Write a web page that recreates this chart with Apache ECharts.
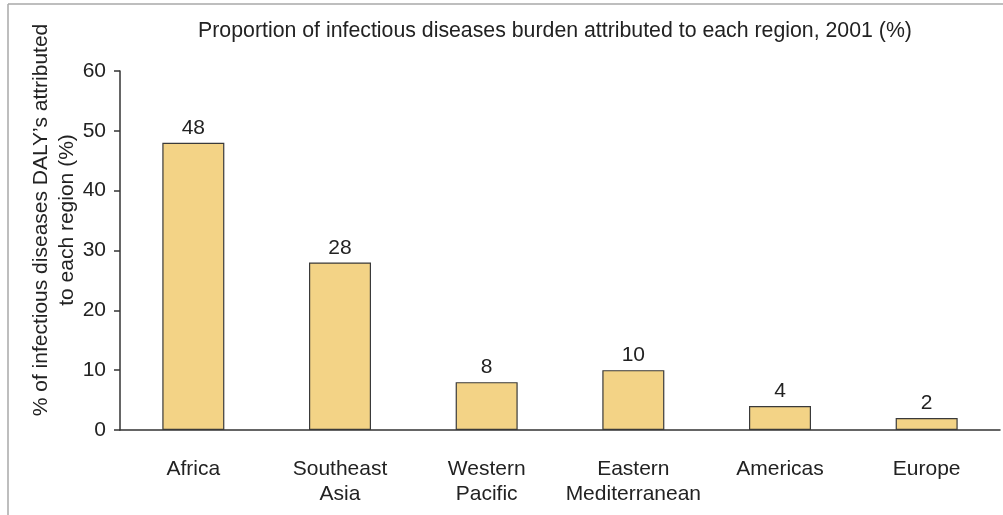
<!DOCTYPE html>
<html>
<head>
<meta charset="utf-8">
<script src="https://cdn.jsdelivr.net/npm/echarts@6/dist/echarts.min.js"></script>
<style>
  html, body { margin: 0; padding: 0; background: #fff; }
  #chart { width: 1003px; height: 515px; }
</style>
</head>
<body>
<div id="chart"></div>
<script>
// Regions and their share of infectious disease DALYs, 2001 (%)
const regions = ['Africa', 'Southeast\nAsia', 'Western\nPacific', 'Eastern\nMediterranean', 'Americas', 'Europe'];
const shares = [48, 28, 8, 10, 4, 2];
const yTicks = [0, 10, 20, 30, 40, 50, 60];

const titleText = 'Proportion of infectious diseases burden attributed to each region, 2001 (%)';
const yNameLines = ["% of infectious diseases DALY\u2019s attributed", 'to each region (%)'];

const FONT = '"Liberation Sans", Arial, Helvetica, sans-serif';
const INK = '#222';
const FS = 21;

const chart = echarts.init(document.getElementById('chart'), null, { renderer: 'canvas' });

chart.setOption({
  animation: false,
  backgroundColor: '#fff',
  textStyle: { fontFamily: FONT, color: INK },
  title: {
    text: titleText,
    left: 550,
    top: 16,
    textAlign: 'center',
    textStyle: { fontFamily: FONT, fontSize: 21.3, fontWeight: 'normal', color: INK }
  },
  grid: { left: 120, right: 3, top: 71, bottom: 85, containLabel: false },
  xAxis: {
    type: 'category',
    data: regions,
    axisLine: { show: true, lineStyle: { color: '#333', width: 1.5 } },
    axisTick: { show: false },
    axisLabel: {
      interval: 0,
      margin: 27,
      fontFamily: FONT,
      fontSize: FS,
      color: INK,
      lineHeight: 25
    }
  },
  yAxis: {
    type: 'value',
    min: yTicks[0],
    max: yTicks[yTicks.length - 1],
    interval: 10,
    axisLine: { show: true, lineStyle: { color: '#333', width: 1.5 } },
    axisTick: { show: true, length: 6, lineStyle: { color: '#333', width: 1.5 } },
    splitLine: { show: false },
    axisLabel: { margin: 14, fontFamily: FONT, fontSize: FS, color: INK }
  },
  series: [{
    type: 'bar',
    data: shares,
    barWidth: 62,
    itemStyle: { color: '#f3d386', borderColor: '#3a3a3a', borderWidth: 1.2 },
    label: {
      show: true,
      position: 'top',
      distance: 4,
      fontFamily: FONT,
      fontSize: FS,
      color: INK
    }
  }],
  graphic: [
    // figure frame (top and left edges)
    { type: 'line', shape: { x1: 8, y1: 4, x2: 1003, y2: 4 }, style: { stroke: '#a8a8a8', lineWidth: 1.5 } },
    { type: 'line', shape: { x1: 8, y1: 4, x2: 8, y2: 515 }, style: { stroke: '#a8a8a8', lineWidth: 1.5 } },
    // y-axis name, two rotated lines
    {
      type: 'text',
      x: 54,
      y: 220,
      rotation: Math.PI / 2,
      style: {
        text: yNameLines.join('\n'),
        fontFamily: FONT,
        fontSize: FS,
        lineHeight: 26,
        fill: INK,
        align: 'center',
        verticalAlign: 'middle'
      }
    }
  ]
});
</script>
</body>
</html>
